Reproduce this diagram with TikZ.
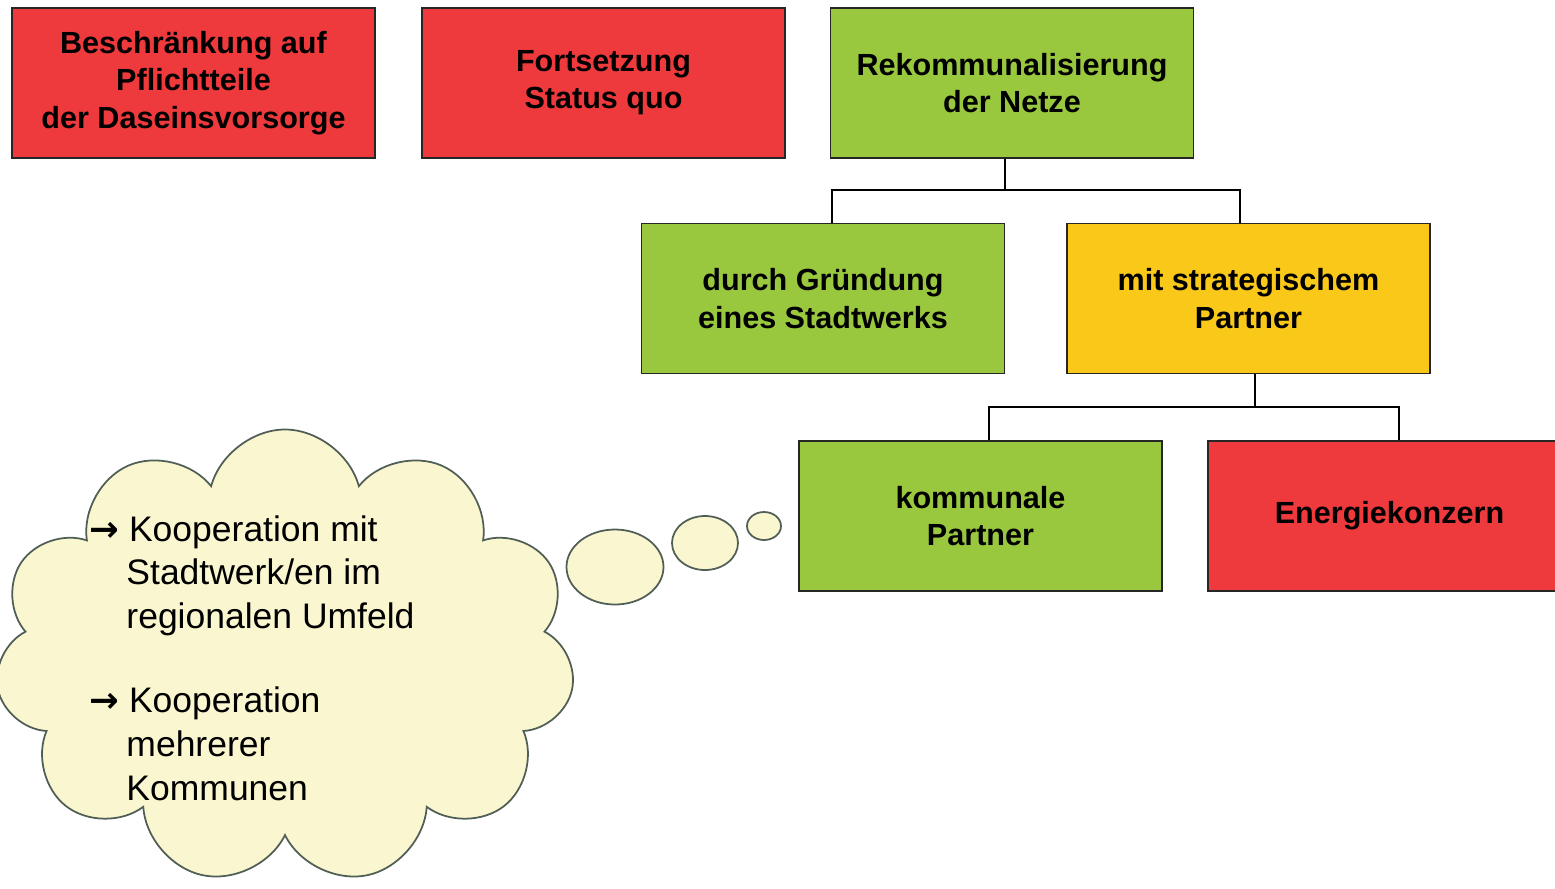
\documentclass[tikz,border=0pt]{standalone}
\usepackage{fontspec}
\setmainfont{Liberation Sans}
\newfontfamily\arrowfont{DejaVu Sans}
\usepackage{tikz}
\usetikzlibrary{shapes}
\usetikzlibrary{calc}
\definecolor{boxred}{RGB}{238,58,60}
\definecolor{boxgreen}{RGB}{153,200,62}
\definecolor{boxyellow}{RGB}{250,200,24}
\definecolor{cloudfill}{RGB}{250,247,208}
\definecolor{cloudline}{RGB}{80,95,85}
\newcommand{\pfeil}{{\arrowfont\bfseries →}}
\tikzset{ plan_box/.style = {rectangle, draw=black!85, line width=0.45pt, minimum width=3.63cm, minimum height=1.5cm, align=center, font=\fontsize{8.7}{10.6}\selectfont\bfseries} }
\tikzset{ red_box/.style = {plan_box, fill=boxred} }
\tikzset{ green_box/.style = {plan_box, fill=boxgreen} }
\tikzset{ yellow_box/.style = {plan_box, fill=boxyellow} }
\tikzset{ bubble/.style = {ellipse, draw=cloudline, fill=cloudfill, line width=0.5pt, inner sep=0pt} }
\tikzset{ link/.style = {line width=0.6pt} }

\begin{document}
\begin{tikzpicture}
\clip (0,0) rectangle (15.55,-8.88);
\fill[white] (0,0) rectangle (15.55,-8.88);
\node[red_box] (pflicht) at (1.935,-0.83) {Beschränkung auf\\Pflichtteile\\der Daseinsvorsorge};
\node[red_box] (status) at (6.035,-0.83) {Fortsetzung\\Status quo};
\node[green_box] (rekom) at (10.12,-0.83) {Rekommunalisierung\\der Netze};
\node[green_box] (stadtwerk) at (8.23,-2.985) {durch Gründung\\eines Stadtwerks};
\node[yellow_box] (partner) at (12.485,-2.985) {mit strategischem\\Partner};
\node[green_box] (kommunal) at (9.805,-5.16) {kommunale\\Partner};
\node[red_box] (konzern) at (13.895,-5.16) {Energiekonzern};
\coordinate (j1) at (10.05,-1.90);
\coordinate (j2) at (12.55,-4.07);
\draw[link] (rekom.south -| j1) -- (j1);
\draw[link] (j1) -| ($(stadtwerk.north)+(0.09,0)$);
\draw[link] (j1) -| ($(partner.north)+(-0.085,0)$);
\draw[link] (partner.south -| j2) -- (j2);
\draw[link] (j2) -| ($(kommunal.north)+(0.085,0)$);
\draw[link] (j2) -| ($(konzern.north)+(0.095,0)$);
\node[cloud, cloud puffs=11, cloud ignores aspect, draw=cloudline, fill=cloudfill, line width=0.5pt, minimum width=5.8cm, minimum height=4.55cm] (wolke) at (2.85,-6.57) {};
\node[bubble, minimum width=0.97cm, minimum height=0.75cm] (blase1) at (6.15,-5.67) {};
\node[bubble, minimum width=0.66cm, minimum height=0.54cm] (blase2) at (7.05,-5.43) {};
\node[bubble, minimum width=0.34cm, minimum height=0.28cm] (blase3) at (7.64,-5.26) {};
\node[align=left, font=\fontsize{10.1}{12.4}\selectfont] (ideen) at (2.52,-6.58) {\pfeil\ Kooperation mit\\\hspace*{3.7mm}Stadtwerk/en im\\\hspace*{3.7mm}regionalen Umfeld\\[11.6pt]\pfeil\ Kooperation\\\hspace*{3.7mm}mehrerer\\\hspace*{3.7mm}Kommunen};
\end{tikzpicture}
\end{document}
